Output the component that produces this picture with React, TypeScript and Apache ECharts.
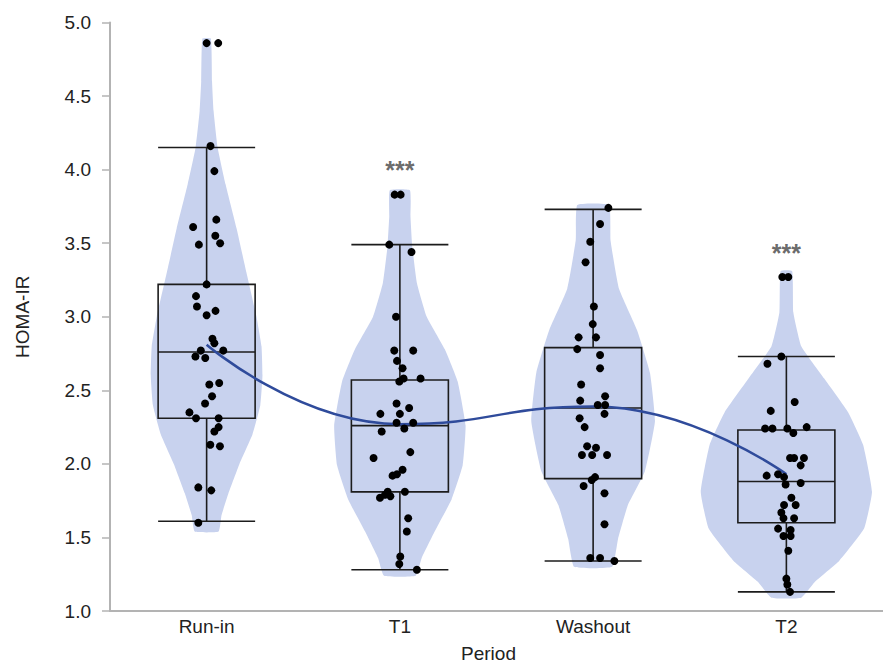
import React, { useEffect, useRef } from "react";
import * as echarts from "echarts";

const categories = ["Run-in", "T1", "Washout", "T2"];

// box statistics: [min whisker, Q1, median, Q3, max whisker]
const boxStats = [
  [1.61, 2.31, 2.76, 3.22, 4.15],
  [1.28, 1.81, 2.26, 2.57, 3.49],
  [1.34, 1.9, 2.38, 2.79, 3.73],
  [1.13, 1.6, 1.88, 2.23, 2.73],
];

const means = [2.81, 2.27, 2.39, 1.93];

// violin density profiles: [value, half width as fraction of category band]
const runInDensity = [
  [1.54, 0.062], [1.65, 0.077], [1.8, 0.113], [2.0, 0.17], [2.2, 0.237], [2.4, 0.278],
  [2.6, 0.289], [2.8, 0.284], [3.0, 0.258], [3.3, 0.206], [3.6, 0.155], [3.9, 0.098],
  [4.15, 0.057], [4.4, 0.036], [4.6, 0.028], [4.89, 0.022],
];
const t1Density = [
  [1.24, 0.082], [1.36, 0.113], [1.54, 0.18], [1.76, 0.268], [1.99, 0.325], [2.26, 0.34],
  [2.56, 0.299], [2.78, 0.232], [3.0, 0.139], [3.23, 0.088], [3.48, 0.064], [3.68, 0.055],
  [3.86, 0.052],
];
const washoutDensity = [
  [1.3, 0.098], [1.49, 0.129], [1.72, 0.18], [1.95, 0.268], [2.29, 0.32], [2.62, 0.294],
  [2.91, 0.227], [3.19, 0.134], [3.52, 0.09], [3.76, 0.082],
];
const t2Density = [
  [1.09, 0.077], [1.2, 0.149], [1.34, 0.273], [1.56, 0.402], [1.81, 0.443], [2.13, 0.397],
  [2.35, 0.32], [2.58, 0.196], [2.8, 0.077], [3.03, 0.036], [3.31, 0.03],
];
const densities = [runInDensity, t1Density, washoutDensity, t2Density];

// individual observations: [jitter offset (category units), value]
const runInPoints = [
  [0.0, 4.86], [0.06, 4.86], [0.02, 4.16], [0.04, 3.99], [-0.07, 3.61], [0.05, 3.66],
  [-0.04, 3.49], [0.045, 3.55], [0.07, 3.5], [0.0, 3.22], [-0.055, 3.14], [-0.05, 3.07],
  [0.0, 3.01], [0.046, 3.04], [0.03, 2.85], [0.04, 2.82], [0.086, 2.77], [-0.03, 2.77],
  [-0.058, 2.73], [-0.007, 2.72], [0.014, 2.54], [0.065, 2.55], [0.028, 2.46], [-0.008, 2.41],
  [-0.089, 2.35], [-0.055, 2.31], [0.062, 2.31], [0.062, 2.25], [0.04, 2.22], [0.019, 2.13],
  [0.069, 2.12], [-0.043, 1.84], [0.024, 1.82], [-0.043, 1.6],
];
const t1Points = [
  [-0.027, 3.83], [0.004, 3.83], [-0.055, 3.49], [0.06, 3.44], [-0.02, 3.0], [-0.029, 2.77],
  [0.069, 2.77], [-0.015, 2.7], [0.014, 2.65], [-0.003, 2.56], [0.019, 2.58], [0.107, 2.58],
  [-0.017, 2.41], [0.048, 2.38], [-0.101, 2.34], [0.0, 2.34], [-0.017, 2.28], [0.069, 2.28],
  [-0.094, 2.22], [0.023, 2.24], [0.054, 2.08], [-0.136, 2.04], [0.014, 1.96], [-0.015, 1.93],
  [-0.038, 1.92], [-0.063, 1.81], [0.026, 1.81], [-0.077, 1.79], [-0.103, 1.77], [-0.049, 1.78],
  [0.043, 1.63], [0.036, 1.54], [0.002, 1.37], [-0.003, 1.32], [0.088, 1.28],
];
const washoutPoints = [
  [0.079, 3.74], [0.036, 3.63], [-0.015, 3.51], [-0.039, 3.37], [0.004, 3.07], [-0.002, 2.95],
  [-0.075, 2.86], [0.015, 2.86], [-0.082, 2.78], [0.036, 2.74], [0.036, 2.65], [-0.062, 2.54],
  [-0.067, 2.43], [0.062, 2.46], [0.024, 2.4], [0.062, 2.4], [0.059, 2.34], [-0.07, 2.31],
  [-0.044, 2.25], [-0.031, 2.12], [0.015, 2.11], [-0.058, 2.06], [-0.005, 2.06], [0.072, 2.06],
  [0.01, 1.91], [-0.007, 1.89], [-0.049, 1.85], [0.059, 1.8], [0.059, 1.59], [-0.015, 1.36],
  [0.036, 1.36], [0.11, 1.34],
];
const t2Points = [
  [-0.021, 3.27], [0.01, 3.27], [-0.026, 2.73], [-0.098, 2.68], [0.043, 2.42], [-0.081, 2.36],
  [-0.11, 2.24], [-0.072, 2.24], [0.005, 2.24], [0.036, 2.21], [0.105, 2.25], [0.019, 2.04],
  [0.04, 2.04], [0.091, 2.04], [0.074, 1.99], [-0.102, 1.92], [-0.043, 1.93], [-0.012, 1.91],
  [-0.004, 1.86], [0.074, 1.87], [0.026, 1.77], [-0.012, 1.72], [0.048, 1.72], [-0.026, 1.67],
  [-0.015, 1.63], [0.04, 1.63], [-0.043, 1.56], [0.022, 1.55], [-0.015, 1.51], [0.022, 1.51],
  [0.01, 1.41], [0.0, 1.22], [0.005, 1.18], [0.019, 1.13],
];
const pointGroups = [runInPoints, t1Points, washoutPoints, t2Points];

// significance annotations: [category index, value, text]
const annotations = [
  [1, 4.0, "***"],
  [3, 3.43, "***"],
];

const yTicks = { min: 1, max: 5, interval: 0.5 };

const FONT = "'Liberation Sans', Arial, sans-serif";

export default function App() {
  const ref = useRef<HTMLDivElement>(null);

  useEffect(() => {
    if (!ref.current) return;
    const chart = echarts.init(ref.current, undefined, { renderer: "svg" });

    const scatterData: number[][] = [];
    pointGroups.forEach((pts, ci) => {
      pts.forEach(([off, v]) => scatterData.push([ci + off, v]));
    });

    const option: any = {
      animation: false,
      backgroundColor: "#ffffff",
      textStyle: { fontFamily: FONT },
      grid: { left: 110, top: 22.5, width: 776, height: 591, containLabel: false },
      xAxis: [
        {
          type: "category",
          data: categories,
          boundaryGap: true,
          name: "Period",
          nameLocation: "middle",
          nameGap: 33,
          nameTextStyle: { fontSize: 19, color: "#222", fontFamily: FONT, padding: [0, 16, 0, 0] },
          axisLine: { show: true, onZero: false, lineStyle: { color: "#b3b3b3", width: 2 } },
          axisTick: { show: false },
          axisLabel: { fontSize: 19, color: "#222", margin: 6, fontFamily: FONT },
          splitLine: { show: false },
        },
        {
          type: "value",
          min: -0.5,
          max: 3.5,
          show: false,
          splitLine: { show: false },
        },
      ],
      yAxis: {
        type: "value",
        min: yTicks.min,
        max: yTicks.max,
        interval: yTicks.interval,
        name: "HOMA-IR",
        nameLocation: "middle",
        nameGap: 78,
        nameTextStyle: { fontSize: 19, color: "#222", fontFamily: FONT },
        axisLine: { show: true, onZero: false, lineStyle: { color: "#b3b3b3", width: 2 } },
        axisTick: { show: true, length: 8, lineStyle: { color: "#b3b3b3", width: 1.5 } },
        axisLabel: {
          fontSize: 19,
          color: "#222",
          margin: 19,
          fontFamily: FONT,
          formatter: (v: number) => v.toFixed(1),
        },
        splitLine: { show: false },
      },
      series: [
        {
          type: "custom",
          name: "violin",
          xAxisIndex: 1,
          z: 1,
          silent: true,
          data: categories.map((_, i) => [i, densities[i][0][0]]),
          encode: { x: 0, y: 1 },
          renderItem: (params: any, api: any) => {
            const ci = api.value(0);
            const prof = densities[params.dataIndex];
            const band = api.size([1, 0])[0];
            const right = prof.map(([v, d]) => {
              const p = api.coord([ci, v]);
              return [p[0] + d * band, p[1]];
            });
            const left = prof
              .slice()
              .reverse()
              .map(([v, d]) => {
                const p = api.coord([ci, v]);
                return [p[0] - d * band, p[1]];
              });
            return {
              type: "polygon",
              shape: { points: [...right, ...left], smooth: 0.12 },
              style: { fill: "#c8d2ee", stroke: "none" },
            };
          },
        },
        {
          type: "boxplot",
          name: "box",
          xAxisIndex: 0,
          z: 2,
          data: boxStats,
          boxWidth: [97, 97],
          itemStyle: { color: "rgba(0,0,0,0)", borderColor: "#1c1c1c", borderWidth: 1.6 },
          emphasis: { disabled: true },
        },
        {
          type: "line",
          name: "mean",
          xAxisIndex: 0,
          z: 3,
          data: means,
          smooth: 0.5,
          symbol: "none",
          lineStyle: { color: "#2f4b9b", width: 2.5 },
        },
        {
          type: "scatter",
          name: "points",
          xAxisIndex: 1,
          z: 4,
          data: scatterData,
          symbolSize: 8,
          itemStyle: { color: "#000000", opacity: 1 },
        },
        {
          type: "scatter",
          name: "significance",
          xAxisIndex: 1,
          z: 5,
          silent: true,
          data: annotations.map(([ci, v, t]) => ({ value: [ci, v], name: t })),
          symbolSize: 0,
          label: {
            show: true,
            position: "inside",
            formatter: (p: any) => p.name,
            fontSize: 25,
            fontWeight: "bold",
            color: "#444",
            fontFamily: FONT,
          },
        },
      ],
    };

    chart.setOption(option);
    return () => chart.dispose();
  }, []);

  return (
    <div
      ref={ref}
      style={{ position: "absolute", left: 0, top: 0, width: 883, height: 668, background: "#fff" }}
    />
  );
}
